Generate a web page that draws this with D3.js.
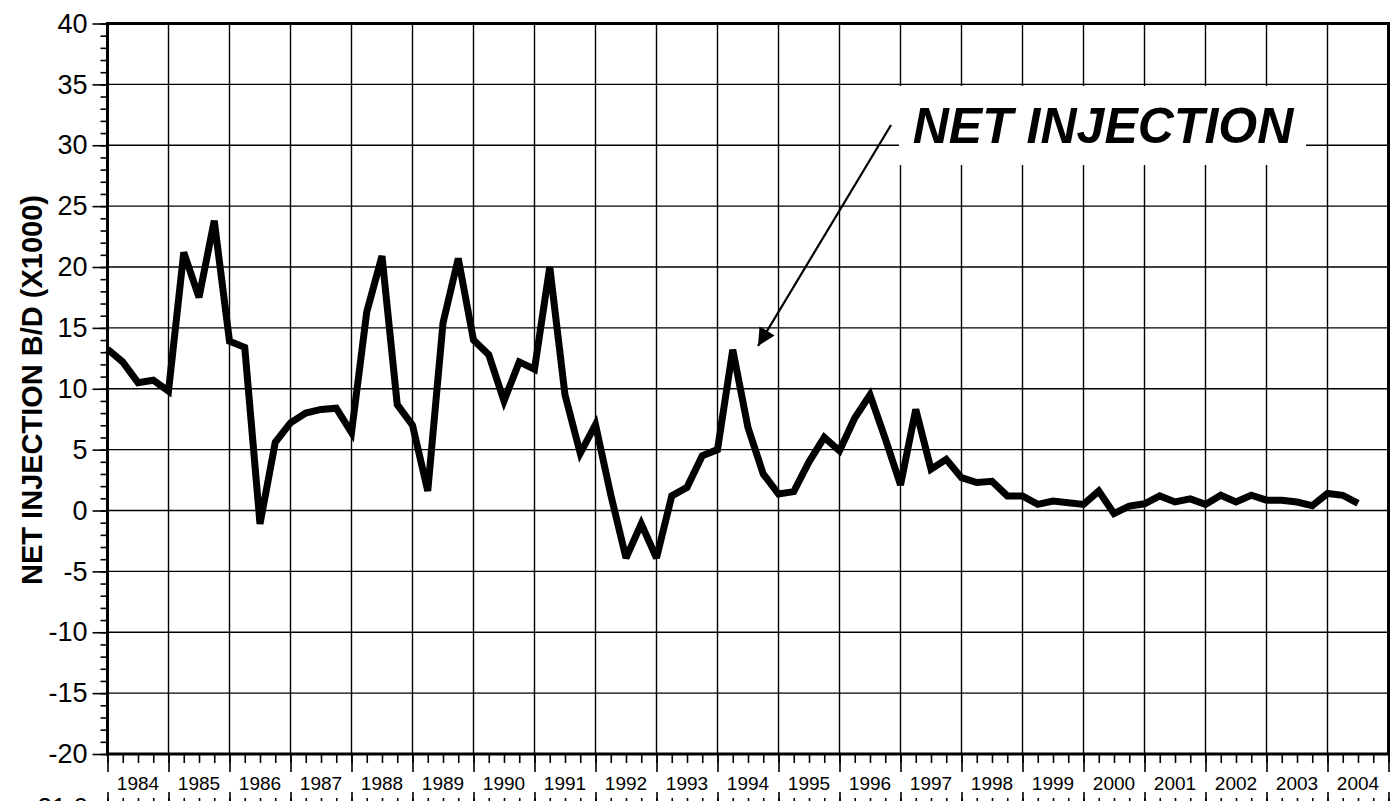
<!DOCTYPE html>
<html>
<head>
<meta charset="utf-8">
<script src="https://cdn.jsdelivr.net/npm/d3@7"></script>
<style>
  body { margin: 0; background: #fff; }
  svg { display: block; font-family: "Liberation Sans", Arial, sans-serif; }
  .grid line { stroke: #000; stroke-width: 1.4; }
  .tick line { stroke: #000; stroke-width: 1.6; }
</style>
</head>
<body>
<svg width="1393" height="801"></svg>
<script>
// tick labels along the bottom, one per year
const years = [1984, 1985, 1986, 1987, 1988, 1989, 1990, 1991, 1992, 1993, 1994,
               1995, 1996, 1997, 1998, 1999, 2000, 2001, 2002, 2003, 2004];

// y tick values
const yTicks = [-20, -15, -10, -5, 0, 5, 10, 15, 20, 25, 30, 35, 40];

// quarterly net injection, B/D x1000, starting 1984 Q1
const netInjection = [
  13.25, 12.2, 10.5, 10.7,
  9.8, 21.2, 17.5, 23.8,
  13.9, 13.4, -1.1, 5.6,
  7.2, 8.0, 8.3, 8.4,
  6.4, 16.3, 20.9, 8.7,
  7.0, 1.6, 15.4, 20.7,
  14.0, 12.8, 9.0, 12.2,
  11.6, 20.0, 9.5, 4.7,
  7.05, 1.3, -3.9, -1.1,
  -3.9, 1.2, 1.9, 4.5,
  5.0, 13.2, 6.8, 3.0,
  1.35, 1.55, 4.0, 6.0,
  4.9, 7.6, 9.5, 5.9,
  2.1, 8.3, 3.4, 4.2,
  2.7, 2.3, 2.4, 1.2,
  1.2, 0.5, 0.77, 0.63,
  0.5, 1.6, -0.25, 0.36,
  0.55, 1.2, 0.7, 0.95,
  0.5, 1.25, 0.7, 1.25,
  0.85, 0.85, 0.7, 0.4,
  1.4, 1.25, 0.58];

const startYear = 1984;
const data = netInjection.map((v, i) => ({ t: startYear + i / 4, v: v }));

let svg = d3.select("svg"),
    plotLeft = 107.5, plotRight = 1388.5, plotTop = 23.5, plotBottom = 754;

let x = d3.scaleLinear().domain([1984, 2005]).range([plotLeft, plotRight]),
    y = d3.scaleLinear().domain([-20, 40]).range([plotBottom, plotTop]);

const quarters = d3.range(1984, 2005.01, 0.25);

// grid
let grid = svg.append("g").attr("class", "grid");

grid.selectAll("line.v")
  .data(years.slice(1))
  .enter().append("line")
    .attr("class", "v")
    .attr("x1", d => x(d)).attr("x2", d => x(d))
    .attr("y1", plotTop).attr("y2", plotBottom);

grid.selectAll("line.h")
  .data(yTicks.filter(d => d > -20 && d < 40))
  .enter().append("line")
    .attr("class", "h")
    .attr("x1", plotLeft).attr("x2", plotRight)
    .attr("y1", d => y(d)).attr("y2", d => y(d));

// y axis, minor then major
svg.append("g")
    .attr("transform", "translate(" + plotLeft + ",0)")
    .call(d3.axisLeft(y).tickValues(d3.range(-20, 41, 1)).tickSize(7).tickFormat(""))
    .call(g => g.select(".domain").remove());

svg.append("g")
    .attr("transform", "translate(" + plotLeft + ",0)")
    .call(d3.axisLeft(y).tickValues(yTicks).tickSize(15).tickPadding(5).tickFormat(d => String(d)))
    .call(g => g.select(".domain").remove())
    .call(g => g.selectAll("text")
        .attr("font-size", "27px")
        .attr("font-family", "'Liberation Sans', Arial, sans-serif")
        .attr("fill", "#000"));

// x axis, quarter ticks and year ticks
svg.append("g")
    .attr("transform", "translate(0," + plotBottom + ")")
    .call(d3.axisBottom(x).tickValues(quarters).tickSize(9).tickFormat(""))
    .call(g => g.select(".domain").remove());

svg.append("g")
    .attr("transform", "translate(0," + plotBottom + ")")
    .call(d3.axisBottom(x).tickValues(years.concat([2005])).tickSize(18).tickFormat(""))
    .call(g => g.select(".domain").remove());

svg.append("g")
  .selectAll("text")
  .data(years)
  .enter().append("text")
    .attr("x", d => x(d + 0.5))
    .attr("y", 790)
    .attr("text-anchor", "middle")
    .attr("font-size", "19px")
    .text(d => d);

// second axis row that is cut off at the bottom of the picture
svg.append("g")
    .attr("transform", "translate(0,802)")
    .call(d3.axisTop(x).tickValues(quarters).tickSize(4).tickFormat(""))
    .call(g => g.select(".domain").remove());
svg.append("g")
    .attr("transform", "translate(0,802)")
    .call(d3.axisTop(x).tickValues(years.concat([2005])).tickSize(10).tickFormat(""))
    .call(g => g.select(".domain").remove());
svg.append("text")
    .attr("x", 88).attr("y", 816)
    .attr("text-anchor", "end")
    .attr("font-size", "26px")
    .text("21.0");

// frame
svg.append("rect")
    .attr("x", plotLeft).attr("y", plotTop)
    .attr("width", plotRight - plotLeft).attr("height", plotBottom - plotTop)
    .attr("fill", "none")
    .attr("stroke", "#000")
    .attr("stroke-width", 3);

// axis title
svg.append("text")
    .attr("transform", "translate(42,390) rotate(-90)")
    .attr("text-anchor", "middle")
    .attr("font-size", "29px")
    .attr("font-weight", "bold")
    .text("NET INJECTION B/D (X1000)");

// data line
let line = d3.line()
    .x(d => x(d.t))
    .y(d => y(d.v));

svg.append("path")
    .datum(data)
    .attr("d", line)
    .attr("fill", "none")
    .attr("stroke", "#000")
    .attr("stroke-width", 7)
    .attr("stroke-linejoin", "miter")
    .attr("stroke-miterlimit", 3);

// annotation
svg.append("rect")
    .attr("x", 899).attr("y", 86)
    .attr("width", 407).attr("height", 79)
    .attr("fill", "#fff");

svg.append("text")
    .attr("x", 1103).attr("y", 143)
    .attr("text-anchor", "middle")
    .attr("font-size", "50px")
    .attr("font-weight", "bold")
    .attr("font-style", "italic")
    .text("NET INJECTION");

svg.append("defs").append("marker")
    .attr("id", "head")
    .attr("viewBox", "0 0 10 10")
    .attr("refX", 10).attr("refY", 5)
    .attr("markerWidth", 10).attr("markerHeight", 8)
    .attr("markerUnits", "strokeWidth")
    .attr("orient", "auto")
  .append("path")
    .attr("d", "M0,0 L10,5 L0,10 z")
    .attr("fill", "#000");

svg.append("line")
    .attr("x1", 891).attr("y1", 125)
    .attr("x2", 758).attr("y2", 346)
    .attr("stroke", "#000")
    .attr("stroke-width", 2.2)
    .attr("marker-end", "url(#head)");
</script>
</body>
</html>
